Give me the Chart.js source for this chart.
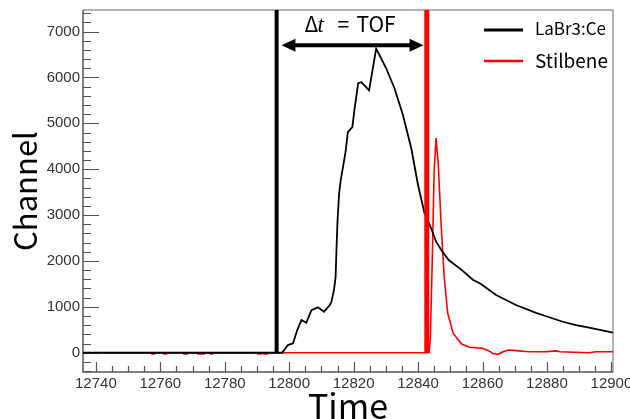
<!DOCTYPE html>
<html>
<head>
<meta charset="utf-8">
<script src="https://cdn.jsdelivr.net/npm/chart.js@4/dist/chart.umd.min.js"></script>
<style>
  body { margin: 0; background: #fff; }
  #wrap { width: 630px; height: 419px; }
</style>
</head>
<body>
<div id="wrap"><canvas id="Chart"></canvas></div>
<script>
// LaBr3:Ce trace
let labrTime = [12736, 12797.8, 12799.6, 12801.2, 12802.5, 12803.8, 12805.3, 12806.9, 12808.9, 12810.8,
    12812.6, 12813.1, 12813.9, 12814.4, 12814.7, 12815.0, 12815.5, 12816.0, 12816.7, 12817.5,
    12818.2, 12819.6, 12820.3, 12821.4, 12822.4, 12824.8, 12827.0, 12830.1, 12832.7, 12835.3,
    12837.9, 12840.0, 12842.0, 12843.9, 12845.6, 12847.2, 12849.5, 12853.6, 12857.0, 12859.5,
    12864.2, 12870.4, 12876.6, 12880, 12884.9, 12889, 12893.1, 12900.5];
let labrCounts = [0, 0, 168, 205, 495, 712, 654, 930, 989, 893,
    1040, 1110, 1366, 1650, 2300, 2880, 3480, 3760, 4050, 4380,
    4810, 4920, 5320, 5870, 5900, 5720, 6630, 6200, 5760, 5180,
    4450, 3650, 3040, 2740, 2420, 2240, 2020, 1800, 1590, 1500,
    1257, 1040, 870, 790, 675, 600, 545, 436];

// Stilbene trace
let stilTime = [12736, 12757.0, 12757.4, 12758.2, 12758.6, 12760.7, 12761.1, 12762.0, 12762.4, 12766.9,
    12767.3, 12768.3, 12768.7, 12771.2, 12771.6, 12773.6, 12774.0, 12775.2, 12775.6, 12776.2,
    12776.6, 12789.9, 12790.3, 12791.3, 12791.7, 12792.1, 12793.1, 12793.5, 12843.4, 12843.8,
    12844.4, 12845.0, 12845.6, 12846.3, 12847.1, 12848.1, 12849.2, 12850.9, 12853.5, 12856.0,
    12858, 12860, 12862, 12863.2, 12864.8, 12866.4, 12868.0, 12870.4, 12874.5, 12880,
    12882.8, 12884, 12893.1, 12895.2, 12900.5];
let stilCounts = [0, 0, -25, -25, 0, 0, -25, -25, 0, 0,
    -25, -25, 0, 0, -25, -25, 0, 0, -25, -25,
    0, 0, -25, -25, 0, -25, -25, 0, 0, 300,
    2000, 3980, 4680, 4060, 2870, 1650, 860, 420, 190, 120,
    110, 95, 40, -15, -35, 22, 60, 45, 22, 25,
    40, 22, 0, 22, 22];

// trigger lines (start / stop)
let startTime = [12796.1, 12796.1];
let stopTime = [12842.7, 12842.7];
let markerCounts = [0, 7470];

// TOF arrow
let arrowTime = [12797.6, 12841.7];
let arrowCount = 6700;

let xTicks = [12740, 12760, 12780, 12800, 12820, 12840, 12860, 12880, 12900];
let yTicks = [0, 1000, 2000, 3000, 4000, 5000, 6000, 7000];

function pts(xs, ys) {
    return xs.map((x, i) => ({ x: x, y: ys[i] }));
}

const frame = {
    id: 'frame',
    beforeDatasetsDraw(chart) {
        const ctx = chart.ctx;
        const ca = chart.chartArea;
        const xa = chart.scales.x;
        const ya = chart.scales.y;
        ctx.save();
        // grey top and right border
        ctx.strokeStyle = '#999';
        ctx.lineWidth = 1.5;
        ctx.beginPath();
        ctx.moveTo(ca.left, ca.top);
        ctx.lineTo(ca.right, ca.top);
        ctx.lineTo(ca.right, ca.bottom);
        ctx.stroke();
        // axes
        ctx.strokeStyle = '#555';
        ctx.beginPath();
        ctx.moveTo(ca.left, ca.top);
        ctx.lineTo(ca.left, ca.bottom);
        ctx.lineTo(ca.right, ca.bottom);
        ctx.stroke();
        // ticks pointing inward
        ctx.lineWidth = 1.2;
        ctx.beginPath();
        for (let v = -400; v <= 7400; v += 200) {
            const py = Math.round(ya.getPixelForValue(v)) + 0.5;
            if (py < ca.top || py > ca.bottom) continue;
            const len = v % 1000 === 0 ? 16 : 8;
            ctx.moveTo(ca.left, py);
            ctx.lineTo(ca.left + len, py);
        }
        for (let v = 12740; v <= 12900; v += 5) {
            const px = Math.round(xa.getPixelForValue(v)) + 0.5;
            if (px < ca.left || px > ca.right + 1) continue;
            const len = v % 20 === 0 ? 10 : 6;
            ctx.moveTo(px, ca.bottom);
            ctx.lineTo(px, ca.bottom - len);
        }
        ctx.stroke();
        ctx.restore();
    },
    afterDatasetsDraw(chart) {
        const ctx = chart.ctx;
        const ca = chart.chartArea;
        const xa = chart.scales.x;
        const ya = chart.scales.y;
        ctx.save();
        // double arrow
        const x1 = xa.getPixelForValue(arrowTime[0]);
        const x2 = xa.getPixelForValue(arrowTime[1]);
        const ay = ya.getPixelForValue(arrowCount);
        ctx.strokeStyle = '#000';
        ctx.fillStyle = '#000';
        ctx.lineWidth = 4;
        ctx.beginPath();
        ctx.moveTo(x1 + 10, ay);
        ctx.lineTo(x2 - 10, ay);
        ctx.stroke();
        ctx.beginPath();
        ctx.moveTo(x1, ay);
        ctx.lineTo(x1 + 14, ay - 6.5);
        ctx.lineTo(x1 + 14, ay + 6.5);
        ctx.closePath();
        ctx.fill();
        ctx.beginPath();
        ctx.moveTo(x2, ay);
        ctx.lineTo(x2 - 14, ay - 6.5);
        ctx.lineTo(x2 - 14, ay + 6.5);
        ctx.closePath();
        ctx.fill();
        // label
        const mid = (x1 + x2) / 2;
        const by = ay - 13.5;
        ctx.textBaseline = 'alphabetic';
        ctx.textAlign = 'left';
        ctx.font = '21px "Noto Sans CJK KR"';
        ctx.fillText('\u0394', mid - 48, by);
        ctx.font = 'italic 23px "Liberation Serif"';
        ctx.fillText('t', mid - 35, by);
        ctx.font = '21px "Noto Sans CJK KR"';
        ctx.fillText('=', mid - 15, by);
        ctx.fillText('TOF', mid + 4, by);
        // legend
        const lx = ca.right - 129;
        ctx.lineWidth = 3;
        ctx.strokeStyle = '#000';
        ctx.beginPath();
        ctx.moveTo(lx, 30);
        ctx.lineTo(lx + 39, 30);
        ctx.stroke();
        ctx.strokeStyle = '#ff0000';
        ctx.lineWidth = 2.5;
        ctx.beginPath();
        ctx.moveTo(lx, 61);
        ctx.lineTo(lx + 39, 61);
        ctx.stroke();
        ctx.fillStyle = '#000';
        ctx.textBaseline = 'middle';
        ctx.font = '17px "Noto Sans CJK KR"';
        ctx.fillText('LaBr3:Ce', lx + 51, 29);
        ctx.font = '19px "Noto Sans CJK KR"';
        ctx.fillText('Stilbene', lx + 51, 61);
        ctx.restore();
    }
};

function main() {
    const ctx = document.getElementById('Chart');
    new Chart(ctx, {
        type: 'line',
        data: {
            datasets: [{
                label: 'stop',
                data: pts(stopTime, markerCounts),
                borderColor: '#ff0000',
                borderWidth: 5,
                order: 0
            }, {
                label: 'start',
                data: pts(startTime, markerCounts),
                borderColor: '#000',
                borderWidth: 4,
                order: 1
            }, {
                label: 'LaBr3:Ce',
                data: pts(labrTime, labrCounts),
                borderColor: '#000',
                borderWidth: 1.8,
                order: 2
            }, {
                label: 'Stilbene',
                data: pts(stilTime, stilCounts),
                borderColor: '#ff0000',
                borderWidth: 1.6,
                order: 3
            }]
        },
        options: {
            responsive: true,
            maintainAspectRatio: false,
            animation: false,
            elements: { point: { radius: 0 }, line: { tension: 0 } },
            layout: { padding: { top: 10, right: 17, left: 0, bottom: 0 } },
            plugins: { legend: { display: false }, tooltip: { enabled: false } },
            scales: {
                x: {
                    type: 'linear',
                    min: 12736,
                    max: 12900.5,
                    grid: { display: false, drawTicks: false },
                    border: { display: false },
                    ticks: {
                        autoSkip: false, maxRotation: 0, padding: 3, color: '#333',
                        font: { family: 'Liberation Sans', size: 15 },
                        callback: v => String(v)
                    },
                    afterBuildTicks: s => { s.ticks = xTicks.map(v => ({ value: v })); },
                    afterFit: s => { s.height = 47; s.paddingLeft = 0; s.paddingRight = 0; },
                    title: {
                        display: true, text: 'Time', color: '#000',
                        font: { family: 'Noto Sans CJK KR', size: 34, lineHeight: 1 },
                        padding: { top: 0, bottom: -4 }
                    }
                },
                y: {
                    min: -420,
                    max: 7470,
                    grid: { display: false, drawTicks: false },
                    border: { display: false },
                    ticks: {
                        autoSkip: false, padding: 3, color: '#333',
                        font: { family: 'Liberation Sans', size: 15 },
                        callback: v => String(v)
                    },
                    afterBuildTicks: s => { s.ticks = yTicks.map(v => ({ value: v })); },
                    afterFit: s => { s.width = 83; s.paddingTop = 0; s.paddingBottom = 0; },
                    title: {
                        display: true, text: 'Channel', color: '#000',
                        font: { family: 'Noto Sans CJK KR', size: 31, lineHeight: 1.2 },
                        padding: { top: 7, bottom: 0 }
                    }
                }
            }
        },
        plugins: [frame]
    });
}

main();
</script>
</body>
</html>
